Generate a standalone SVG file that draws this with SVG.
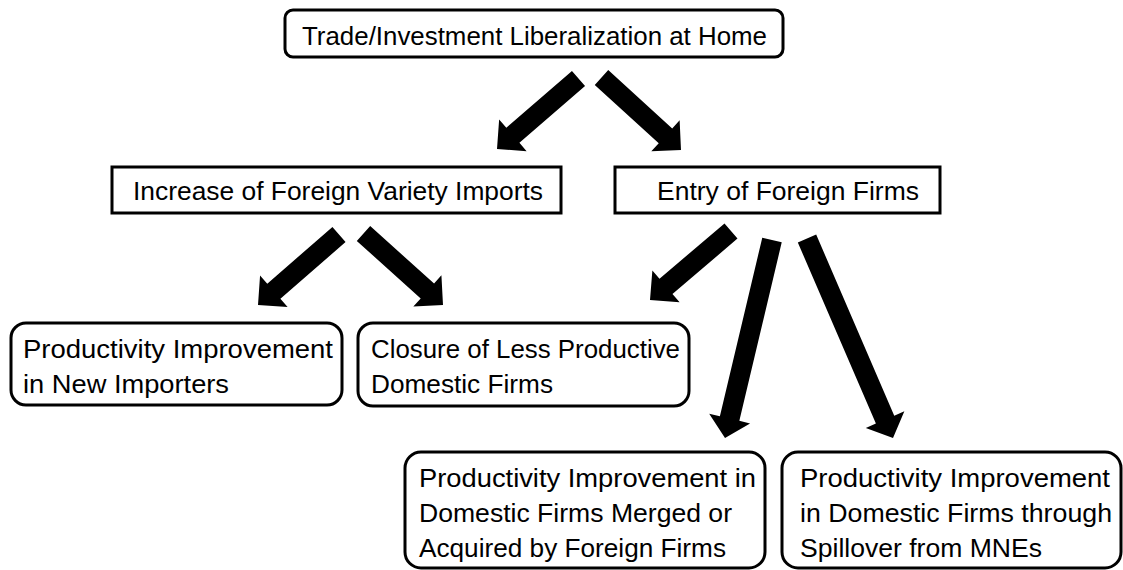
<svg xmlns="http://www.w3.org/2000/svg" width="1123" height="570" viewBox="0 0 1123 570">
<style>
.box{fill:#fff;stroke:#000;stroke-width:3}
.t{font-family:"Liberation Sans",Arial,sans-serif;font-size:26px;fill:#000}
.arr{fill:#000;stroke:none}
</style>
<rect width="1123" height="570" fill="#fff"/>
<g id="connectors">
<polygon class="arr" points="571.96,70.94 506.34,127.70 499.14,119.38 497,149 526.62,151.14 519.42,142.82 585.04,86.06"/>
<polygon class="arr" points="594.76,84.89 658.74,143.24 651.33,151.37 681,150 679.63,120.33 672.22,128.46 608.24,70.11"/>
<polygon class="arr" points="332.44,226.96 267.28,283.68 260.06,275.38 258,305 287.62,307.06 280.40,298.76 345.56,242.04"/>
<polygon class="arr" points="356.81,240.94 420.69,298.40 413.34,306.58 443,305 441.42,275.34 434.07,283.52 370.19,226.06"/>
<polygon class="arr" points="724.51,223.39 659.50,278.77 652.37,270.39 650,300 679.61,302.37 672.48,293.99 737.49,238.61"/>
<polygon class="arr" points="762.27,237.69 719.89,416.23 709.19,413.69 725,438 750.05,423.39 739.35,420.85 781.73,242.31"/>
<polygon class="arr" points="797.82,242.46 875.90,423.59 865.80,427.94 893,438 904.36,411.32 894.26,415.67 816.18,234.54"/>
</g>
<g id="top">
<rect class="box" x="285" y="10" width="498" height="47" rx="8"/>
<text class="t" x="302" y="45" textLength="465" lengthAdjust="spacingAndGlyphs">Trade/Investment Liberalization at Home</text>
</g>
<g id="increase">
<rect class="box" x="112" y="167" width="449" height="46"/>
<text class="t" x="133" y="200" textLength="410" lengthAdjust="spacingAndGlyphs">Increase of Foreign Variety Imports</text>
</g>
<g id="entry">
<rect class="box" x="615" y="167" width="325" height="46"/>
<text class="t" x="657" y="200" textLength="262" lengthAdjust="spacingAndGlyphs">Entry of Foreign Firms</text>
</g>
<g id="importers">
<rect class="box" x="11" y="323" width="331" height="82" rx="15"/>
<text class="t" x="23" y="358" textLength="310" lengthAdjust="spacingAndGlyphs">Productivity Improvement</text>
<text class="t" x="23" y="393" textLength="206" lengthAdjust="spacingAndGlyphs">in New Importers</text>
</g>
<g id="closure">
<rect class="box" x="358" y="323" width="331" height="83" rx="15"/>
<text class="t" x="371" y="358" textLength="309" lengthAdjust="spacingAndGlyphs">Closure of Less Productive</text>
<text class="t" x="371" y="393" textLength="182" lengthAdjust="spacingAndGlyphs">Domestic Firms</text>
</g>
<g id="merged">
<rect class="box" x="405" y="452" width="360" height="116" rx="16"/>
<text class="t" x="419" y="487" textLength="337" lengthAdjust="spacingAndGlyphs">Productivity Improvement in</text>
<text class="t" x="419" y="522" textLength="313" lengthAdjust="spacingAndGlyphs">Domestic Firms Merged or</text>
<text class="t" x="419" y="557" textLength="307" lengthAdjust="spacingAndGlyphs">Acquired by Foreign Firms</text>
</g>
<g id="spillover">
<rect class="box" x="782" y="452" width="339" height="116" rx="16"/>
<text class="t" x="800" y="487" textLength="310" lengthAdjust="spacingAndGlyphs">Productivity Improvement</text>
<text class="t" x="800" y="522" textLength="312" lengthAdjust="spacingAndGlyphs">in Domestic Firms through</text>
<text class="t" x="800" y="557" textLength="242" lengthAdjust="spacingAndGlyphs">Spillover from MNEs</text>
</g>
</svg>
